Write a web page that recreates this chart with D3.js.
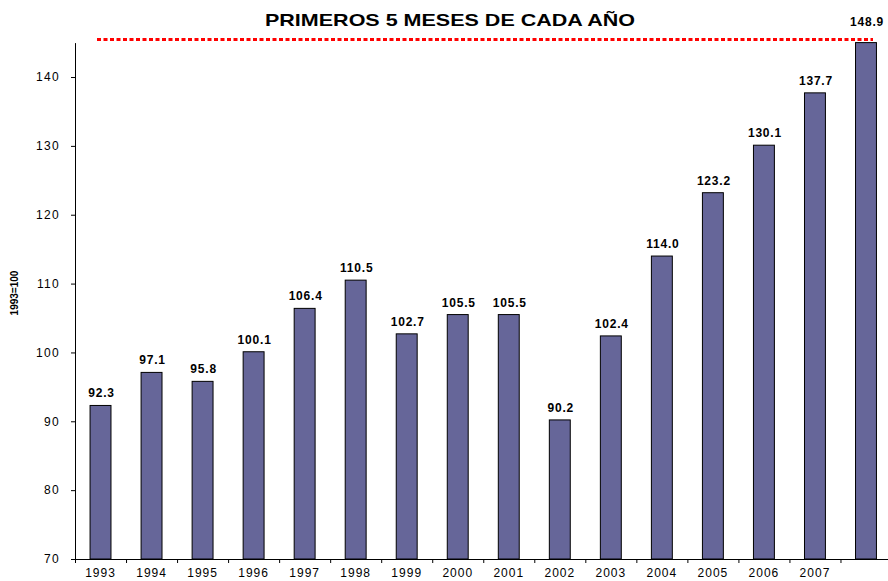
<!DOCTYPE html>
<html>
<head>
<meta charset="utf-8">
<script src="https://cdn.jsdelivr.net/npm/d3@7"></script>
<style>
  body { margin: 0; background: #fff; }
  text { font-family: "Liberation Sans", Arial, sans-serif; }
</style>
</head>
<body>
<script>
// data
var years = ["1993", "1994", "1995", "1996", "1997", "1998", "1999", "2000",
             "2001", "2002", "2003", "2004", "2005", "2006", "2007", "2008"];
var values = [92.3, 97.1, 95.8, 100.1, 106.4, 110.5, 102.7, 105.5,
              105.5, 90.2, 102.4, 114.0, 123.2, 130.1, 137.7, 148.9];
var yearLabels = ["1993", "1994", "1995", "1996", "1997", "1998", "1999", "2000",
                  "2001", "2002", "2003", "2004", "2005", "2006", "2007", ""];
var yTicks = [70, 80, 90, 100, 110, 120, 130, 140];

var svgWidth = 888,
    svgHeight = 581,
    yMin = 70,
    yMax = 145;

var svg = d3.select("body").append("svg")
    .attr("width", svgWidth)
    .attr("height", svgHeight);

// scales
var xScale = d3.scaleBand()
    .domain(years)
    .range([75, 891.5])
    .padding(0);
var xIndex = d3.scaleLinear()
    .domain([0, years.length])
    .range([75, 891.5]);
var yScale = d3.scaleLinear()
    .domain([yMin, yMax])
    .range([559, 42.6]);

var barWidth = xScale.bandwidth() * 0.41;

// title
svg.append("text")
    .attr("x", 450)
    .attr("y", 26)
    .attr("text-anchor", "middle")
    .attr("font-size", 17)
    .attr("font-weight", "bold")
    .attr("textLength", 370)
    .attr("lengthAdjust", "spacingAndGlyphs")
    .text("PRIMEROS 5 MESES DE CADA AÑO");

// y axis
var yAxis = svg.append("g")
    .attr("transform", "translate(75,0)")
    .call(d3.axisLeft(yScale).tickValues(yTicks).tickSize(4).tickPadding(11).tickSizeOuter(0));
yAxis.selectAll("text")
    .attr("font-size", 12)
    .attr("letter-spacing", 1.3)
    .attr("fill", "#000");

// y axis label
svg.append("text")
    .attr("transform", "translate(18,293) rotate(-90)")
    .attr("text-anchor", "middle")
    .attr("font-size", 10)
    .attr("font-weight", "bold")
    .text("1993=100");

// bars
svg.selectAll("rect.bar")
    .data(values)
    .enter()
    .append("rect")
    .attr("class", "bar")
    .attr("x", (d, i) => xScale(years[i]) + (xScale.bandwidth() - barWidth) / 2)
    .attr("y", d => yScale(Math.min(d, yMax)))
    .attr("width", barWidth)
    .attr("height", d => yScale(yMin) - yScale(Math.min(d, yMax)))
    .attr("fill", "#666699")
    .attr("stroke", "#000")
    .attr("stroke-width", 1);

// value labels
svg.selectAll("text.val")
    .data(values)
    .enter()
    .append("text")
    .attr("class", "val")
    .attr("x", (d, i) => xScale(years[i]) + xScale.bandwidth() / 2 + 1)
    .attr("y", d => d > yMax ? yScale(yMax) - 17 : yScale(d) - 8)
    .attr("text-anchor", "middle")
    .attr("font-size", 12)
    .attr("font-weight", "bold")
    .attr("letter-spacing", 0.8)
    .text(d => d3.format(".1f")(d));

// red dotted line at the top of the plot
svg.append("line")
    .attr("x1", 97)
    .attr("x2", 873)
    .attr("y1", yScale(yMax) - 3)
    .attr("y2", yScale(yMax) - 3)
    .attr("stroke", "#ff0000")
    .attr("stroke-width", 3)
    .attr("stroke-dasharray", "4,2.5");

// x axis: tick marks at band edges
svg.append("g")
    .attr("transform", "translate(0,559)")
    .call(d3.axisBottom(xIndex).tickValues(d3.range(0, years.length)).tickFormat("").tickSize(4).tickSizeOuter(0));

// x axis labels
var xAxis = svg.append("g")
    .attr("transform", "translate(0,559)")
    .call(d3.axisBottom(xScale).tickSize(0).tickPadding(9).tickFormat((d, i) => yearLabels[i]));
xAxis.select(".domain").remove();
xAxis.selectAll("text")
    .attr("font-size", 12)
    .attr("letter-spacing", 1)
    .attr("fill", "#000");
</script>
</body>
</html>
